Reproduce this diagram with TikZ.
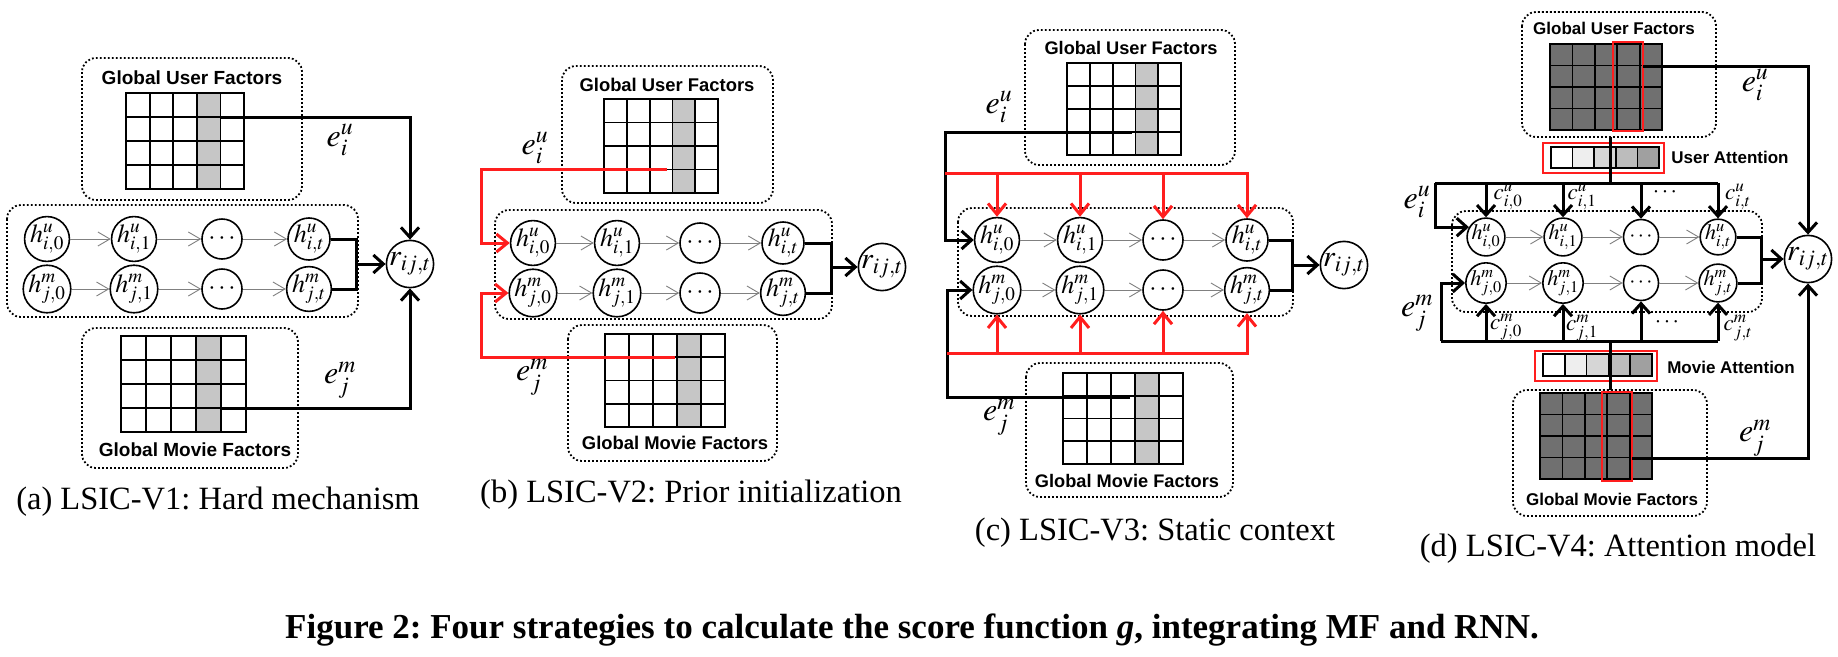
\documentclass[tikz,border=0pt]{standalone}
\usepackage{mathptmx}
\usepackage[no-math]{fontspec}
\setmainfont{Liberation Serif}
\setsansfont{Liberation Sans}
\usetikzlibrary{arrows.meta}
\frenchspacing
\definecolor{myred}{RGB}{255,30,30}
\definecolor{lightsh}{RGB}{198,198,198}
\definecolor{darksh}{RGB}{112,112,112}
\definecolor{attA}{RGB}{255,255,255}
\definecolor{attB}{RGB}{238,238,238}
\definecolor{attC}{RGB}{214,214,214}
\definecolor{attD}{RGB}{188,188,188}
\definecolor{attE}{RGB}{160,160,160}
\tikzset{
  dotbox/.style={draw, line width=1.8pt, dash pattern=on 1.8pt off 2.2pt, rounded corners=14pt},
  gridline/.style={line width=1.8pt, line cap=rect},
  hnode/.style={circle, draw, line width=1.6pt, minimum size=40pt, inner sep=0pt, fill=white, font=\fontsize{26}{26}\selectfont},
  rnode/.style={circle, draw, line width=1.6pt, minimum size=46pt, inner sep=0pt, font=\fontsize{30}{30}\selectfont},
  thk/.style={line width=3pt},
  thkarr/.style={line width=3pt, -{Straight Barb[length=10pt,width=18pt]}},
  redarr/.style={line width=3pt, draw=myred, -{Straight Barb[length=11pt,width=18pt]}},
  greyarr/.style={line width=0.9pt, draw=gray, -{Straight Barb[length=12pt,width=14pt]}},
  ttl/.style={font=\fontsize{#1}{#1}\sffamily\bfseries\selectfont, inner sep=0pt},
  elab/.style={font=\fontsize{32}{32}\selectfont, inner sep=0pt},
  clab/.style={font=\fontsize{23}{23}\selectfont, inner sep=0pt},
  caption/.style={font=\fontsize{32.5}{34}\selectfont, inner sep=0pt},
  redbox/.style={draw=myred, line width=1.8pt},
}
\newcommand\factorgrid[5]{%
  \pgfmathsetmacro\fgcw{(#3-#1)/5}%
  \pgfmathsetmacro\fgrh{(#4-#2)/4}%
  \fill[#5] ({#1+3*\fgcw},#2) rectangle ({#1+4*\fgcw},#4);
  \foreach \fgi in {0,...,5}{\draw[gridline] ({#1+\fgi*\fgcw},#2) -- ({#1+\fgi*\fgcw},#4);}
  \foreach \fgj in {0,...,4}{\draw[gridline] (#1,{#2+\fgj*\fgrh}) -- (#3,{#2+\fgj*\fgrh});}
}
\newcommand\attbar[4]{%
  \pgfmathsetmacro\abw{(#3-#1)/5}%
  \foreach \k/\c in {0/attA,1/attB,2/attC,3/attD,4/attE}{\filldraw[fill=\c, draw=black, line width=1.6pt] ({#1+\k*\abw},#2) rectangle ({#1+(\k+1)*\abw},#4);}
}
\newcommand\hrows[7]{%
  \node[hnode] (#1hu0) at (#2,#6) {$h^{u}_{i,0}$};
  \node[hnode] (#1hu1) at (#3,#6) {$h^{u}_{i,1}$};
  \node[hnode] (#1hud) at (#4,#6) {$\cdots$};
  \node[hnode] (#1hut) at (#5,#6) {$h^{u}_{i,t}$};
  \node[hnode] (#1hm0) at (#2,#7) {$h^{m}_{j,0}$};
  \node[hnode] (#1hm1) at (#3,#7) {$h^{m}_{j,1}$};
  \node[hnode] (#1hmd) at (#4,#7) {$\cdots$};
  \node[hnode] (#1hmt) at (#5,#7) {$h^{m}_{j,t}$};
  \foreach \p/\q in {0/1,1/d,d/t}{\draw[greyarr] (#1hu\p) -- (#1hu\q); \draw[greyarr] (#1hm\p) -- (#1hm\q);}
}
\begin{document}
\begin{tikzpicture}[x=1pt,y=-1pt]
\useasboundingbox (0,0) rectangle (1838,656);
\fill[white] (0,0) rectangle (1838,656);

% ---------------- Panel (a)
\draw[dotbox] (82,58) rectangle (302,200);
\node[ttl=19] (a-ut) at (192,78) {Global User Factors};
\factorgrid{126}{93}{244}{189}{lightsh}
\coordinate (a-ue) at (221,117);
\draw[dotbox] (7,205) rectangle (358,317);
\hrows{a-}{47}{134}{222}{309}{239}{289}
\node[rnode] (a-r) at (410,264) {$r_{ij,t}$};
\coordinate (a-j) at (356,264);
\draw[thk] (a-hut.east) -- (a-hut.east -| a-j) -- (a-hmt.east -| a-j) -- (a-hmt.east);
\draw[thkarr] (a-j) -- (a-r);
\draw[thkarr] (a-ue) -| (a-r.north);
\draw[dotbox] (82,328) rectangle (298,468);
\node[ttl=19] (a-mt) at (195,450) {Global Movie Factors};
\factorgrid{121}{336}{246}{432}{lightsh}
\coordinate (a-me) at (221,408);
\draw[thkarr] (a-me) -| (a-r.south);
\node[elab] (a-eu) at (340,140) {$e^{u}_{i}$};
\node[elab] (a-em) at (340,380) {$e^{m}_{j}$};
\node[caption] (a-cap) at (218,502) {(a) LSIC-V1: Hard mechanism};

% ---------------- Panel (b)
\draw[dotbox] (562,66) rectangle (773,203);
\node[ttl=18.4] (b-ut) at (667,85) {Global User Factors};
\factorgrid{604}{99}{718}{193}{lightsh}
\draw[dotbox] (495,210) rectangle (832,319);
\hrows{b-}{533}{617}{700}{783}{243}{293}
\node[rnode] (b-r) at (882,267) {$r_{ij,t}$};
\coordinate (b-j) at (831,267);
\draw[thk] (b-hut.east) -- (b-hut.east -| b-j) -- (b-hmt.east -| b-j) -- (b-hmt.east);
\draw[thkarr] (b-j) -- (b-r);
\draw[dotbox] (568,325) rectangle (777,461);
\node[ttl=18.4] (b-mt) at (675,443) {Global Movie Factors};
\factorgrid{605}{334}{725}{427}{lightsh}
\coordinate (b-ue) at (667,169);
\coordinate (b-ul) at (481,169);
\coordinate (b-me) at (675,357);
\coordinate (b-ml) at (481,357);
\draw[redarr] (b-ue) -- (b-ul) |- (b-hu0.west);
\draw[redarr] (b-me) -- (b-ml) |- (b-hm0.west);
\node[elab] (b-eu) at (535,148) {$e^{u}_{i}$};
\node[elab] (b-em) at (532,377) {$e^{m}_{j}$};
\node[caption] (b-cap) at (691,495) {(b) LSIC-V2: Prior initialization};

% ---------------- Panel (c)
\draw[dotbox] (1025,30) rectangle (1235,165);
\node[ttl=18.2] (c-ut) at (1131,48) {Global User Factors};
\factorgrid{1067}{63}{1181}{155}{lightsh}
\draw[dotbox] (958,208) rectangle (1293,316);
\hrows{c-}{997}{1080}{1163}{1247}{240}{290}
\node[rnode] (c-r) at (1344,265) {$r_{ij,t}$};
\coordinate (c-j) at (1292,265);
\draw[thk] (c-hut.east) -- (c-hut.east -| c-j) -- (c-hmt.east -| c-j) -- (c-hmt.east);
\draw[thkarr] (c-j) -- (c-r);
\draw[dotbox] (1026,363) rectangle (1233,497);
\node[ttl=18.2] (c-mt) at (1127,481) {Global Movie Factors};
\factorgrid{1063}{373}{1183}{464}{lightsh}
\coordinate (c-ue) at (1132,132);
\coordinate (c-ul) at (945,132);
\coordinate (c-me) at (1130,397);
\coordinate (c-ml) at (947,397);
\draw[thkarr] (c-ue) -- (c-ul) |- (c-hu0.west);
\draw[thkarr] (c-me) -- (c-ml) |- (c-hm0.west);
\coordinate (c-rt) at (945,173);
\coordinate (c-rb) at (947,353);
\draw[redarr] (c-rt) -| (c-hut.north);
\foreach \n in {0,1,d}{\draw[redarr] (c-hu\n.north |- c-rt) -- (c-hu\n.north);}
\draw[redarr] (c-rb) -| (c-hmt.south);
\foreach \n in {0,1,d}{\draw[redarr] (c-hm\n.south |- c-rb) -- (c-hm\n.south);}
\node[elab] (c-eu) at (999,107) {$e^{u}_{i}$};
\node[elab] (c-em) at (999,417) {$e^{m}_{j}$};
\node[caption] (c-cap) at (1155,533) {(c) LSIC-V3: Static context};

% ---------------- Panel (d)
\draw[dotbox] (1522,12) rectangle (1716,137);
\node[ttl=17] (d-ut) at (1614,28) {Global User Factors};
\fill[darksh] (1550,44) rectangle (1662,130);
\factorgrid{1550}{44}{1662}{130}{darksh}
\draw[redbox] (1613,42) rectangle (1643,131);
\draw[redbox] (1543,143) rectangle (1664,173);
\attbar{1551}{147}{1659}{168}
\node[ttl=17] (d-ua) at (1730,157) {User Attention};
\coordinate (d-uv1) at (1610,137);
\coordinate (d-uv2) at (1610,183);
\draw[thk] (d-uv1) -- (d-uv2);
\draw[dotbox] (1452,211) rectangle (1762,312);
\begin{scope}[hnode/.append style={minimum size=35pt, font=\fontsize{22}{22}\selectfont}]
\hrows{d-}{1486}{1563}{1641}{1718}{237}{283}
\end{scope}
\node[rnode, minimum size=41pt] (d-r) at (1808,259) {$r_{ij,t}$};
\coordinate (d-j) at (1761,259);
\draw[thk] (d-hut.east) -- (d-hut.east -| d-j) -- (d-hmt.east -| d-j) -- (d-hmt.east);
\draw[thkarr] (d-j) -- (d-r);
\coordinate (d-tl) at (1435,183);
\draw[thk] (d-tl) -- (d-hut.north |- d-tl);
\foreach \n in {0,1,d,t}{\draw[thkarr] (d-hu\n.north |- d-tl) -- (d-hu\n.north);}
\draw[thkarr] (d-tl) |- (d-hu0.150);
\coordinate (d-bl) at (1441,341);
\draw[thk] (d-bl) -- (d-hmt.south |- d-bl);
\foreach \n in {0,1,d,t}{\draw[thkarr] (d-hm\n.south |- d-bl) -- (d-hm\n.south);}
\draw[thkarr] (d-bl) |- (d-hm0.west);
\draw[redbox] (1535,351) rectangle (1657,381);
\attbar{1543}{354}{1652}{376}
\node[ttl=17] (d-ma) at (1731,367) {Movie Attention};
\coordinate (d-mv1) at (1610,341);
\coordinate (d-mv2) at (1610,390);
\draw[thk] (d-mv1) -- (d-mv2);
\draw[dotbox] (1513,390) rectangle (1707,516);
\node[ttl=17] (d-mt) at (1612,499) {Global Movie Factors};
\fill[darksh] (1540,393) rectangle (1652,479);
\factorgrid{1540}{393}{1652}{479}{darksh}
\draw[redbox] (1602,392) rectangle (1632,481);
\coordinate (d-ue) at (1643,66);
\coordinate (d-me) at (1632,458);
\draw[thkarr] (d-ue) -| (d-r.north);
\draw[thkarr] (d-me) -| (d-r.south);
\node[elab] (d-eu) at (1755,85) {$e^{u}_{i}$};
\node[elab] (d-em) at (1755,438) {$e^{m}_{j}$};
\node[elab] (d-eu2) at (1417,202) {$e^{u}_{i}$};
\node[elab] (d-em2) at (1417,313) {$e^{m}_{j}$};
\node[clab] (d-c0) at (1508,197) {$c^{u}_{i,0}$};
\node[clab] (d-c1) at (1582,197) {$c^{u}_{i,1}$};
\node[clab] (d-cd) at (1665,192) {$\cdots$};
\node[clab] (d-ct) at (1738,197) {$c^{u}_{i,t}$};
\node[clab] (d-m0) at (1506,327) {$c^{m}_{j,0}$};
\node[clab] (d-m1) at (1582,328) {$c^{m}_{j,1}$};
\node[clab] (d-md) at (1667,322) {$\cdots$};
\node[clab] (d-mt2) at (1738,328) {$c^{m}_{j,t}$};
\node[caption] (d-cap) at (1618,549) {(d) LSIC-V4: Attention model};

% ---------------- Figure caption
\node[font=\fontsize{35}{36}\selectfont\bfseries, inner sep=0pt] (fig) at (912,630) {Figure 2: Four strategies to calculate the score function \textit{g}, integrating MF and RNN.};
\end{tikzpicture}
\end{document}
